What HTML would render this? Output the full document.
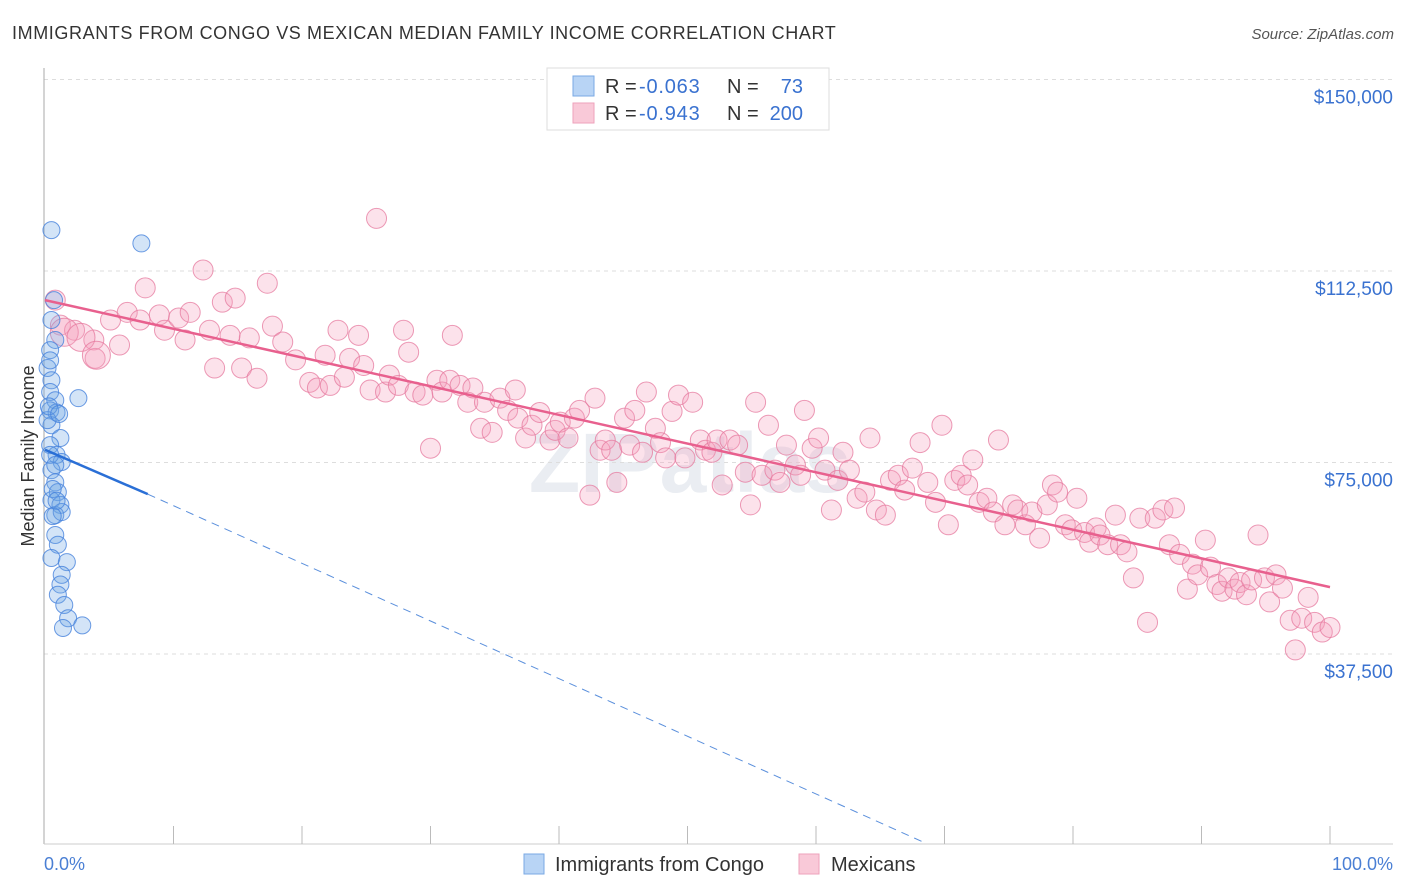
<!DOCTYPE html>
<html><head><meta charset="utf-8"><style>
body{margin:0;background:#fff;font-family:"Liberation Sans",sans-serif;}
svg{display:block}
</style></head><body>
<svg id="chart" width="1406" height="892">
<text x="12" y="39" font-size="18" fill="#333" letter-spacing="0.6">IMMIGRANTS FROM CONGO VS MEXICAN MEDIAN FAMILY INCOME CORRELATION CHART</text>
<text x="1394" y="39" font-size="15" fill="#555" font-style="italic" text-anchor="end">Source: ZipAtlas.com</text>
<text x="690" y="492" font-size="84" fill="#eaedf2" text-anchor="middle" font-weight="bold">ZIPatlas</text>
<g id="grid"></g>
<line x1="44" y1="68" x2="44" y2="844" stroke="#aaa"/>
<line x1="44" y1="844" x2="1393" y2="844" stroke="#ccc"/>
<g id="xticks"></g>
<text x="34" y="456" font-size="18" fill="#333" text-anchor="middle" transform="rotate(-90 34 456)">Median Family Income</text>
<text x="44" y="870" font-size="18" fill="#4a7fd4">0.0%</text>
<text x="1393" y="870" font-size="18" fill="#4a7fd4" text-anchor="end">100.0%</text>
<g id="pts"></g>
<g id="lines"></g>
<g>
<rect x="547" y="68" width="282" height="62" fill="#fff" stroke="#ddd"/>
<rect x="573" y="76" width="21" height="20" fill="#b8d4f5" stroke="#7aa9e4"/>
<rect x="573" y="103" width="21" height="20" fill="#f9c9d8" stroke="#eea2bb"/>
<text x="605" y="93" font-size="20" fill="#333">R = <tspan x="639" fill="#3a72d0" letter-spacing="0.8">-0.063</tspan></text>
<text x="727" y="93" font-size="20" fill="#333">N = <tspan x="803" text-anchor="end" fill="#3a72d0">73</tspan></text>
<text x="605" y="120" font-size="20" fill="#333">R = <tspan x="639" fill="#3a72d0" letter-spacing="0.8">-0.943</tspan></text>
<text x="727" y="120" font-size="20" fill="#333">N = <tspan x="803" text-anchor="end" fill="#3a72d0">200</tspan></text>
</g>
<g>
<rect x="524" y="854" width="20" height="20" fill="#b8d4f5" stroke="#7aa9e4"/>
<text x="555" y="871" font-size="20" fill="#333">Immigrants from Congo</text>
<rect x="799" y="854" width="20" height="20" fill="#f9c9d8" stroke="#eea2bb"/>
<text x="831" y="871" font-size="20" fill="#333">Mexicans</text>
</g>
</svg>
<script>
const yTicks=[150000,112500,75000,37500];
const yTickLabels=["$150,000","$112,500","$75,000","$37,500"];
const xTicks=[0,10,20,30,40,50,60,70,80,90,100];
const pinkX=[0.8,1.2,2.3,3.8,3.9,5.1,5.8,6.4,7.8,7.4,8.9,9.3,10.4,10.9,11.3,12.3,12.8,13.2,13.8,14.4,14.8,15.3,15.9,16.5,17.3,17.7,18.5,19.5,20.6,21.2,21.8,22.2,22.8,23.3,23.7,24.4,24.8,25.3,25.8,26.5,26.8,27.5,27.9,28.3,28.8,29.4,30,30.5,30.9,31.5,31.7,32.3,32.9,33.3,33.9,34.2,34.8,35.4,36,36.6,36.8,37.4,37.9,38.5,39.3,39.7,40.1,40.7,41.2,41.6,42.4,42.8,43.2,43.6,44.1,44.5,45.1,45.5,45.9,46.5,46.8,47.5,47.9,48.3,48.8,49.3,49.8,50.4,51,51.4,51.9,52.3,52.7,53.3,53.9,54.5,54.9,55.3,55.8,56.3,56.8,57.2,57.7,58.4,58.8,59.1,59.7,60.2,60.7,61.2,61.7,62.1,62.6,63.2,63.8,64.2,64.7,65.4,65.8,66.4,66.9,67.5,68.1,68.7,69.3,69.8,70.3,70.8,71.3,71.8,72.2,72.7,73.3,73.8,74.2,74.7,75.3,75.7,76.3,76.8,77.4,78,78.4,78.8,79.4,79.9,80.3,80.9,81.3,81.8,82.1,82.7,83.3,83.7,84.2,84.7,85.2,85.8,86.4,87,87.5,87.9,88.3,88.9,89.3,89.7,90.3,90.7,91.2,91.6,92.1,92.6,93,93.5,93.9,94.4,94.9,95.3,95.8,96.3,96.9,97.3,97.8,98.3,98.8,99.4,100,1.5,2.8,4.0];
const pinkY=[106.8,101.9,100.9,99,95.4,102.9,98,104.4,109.2,102.9,103.9,100.9,103.3,99,104.4,112.7,100.9,93.5,106.4,99.9,107.2,93.5,99.4,91.5,110.1,101.7,98.6,95.1,90.7,89.6,96,90.1,100.9,91.7,95.4,99.9,94,89.2,122.8,88.8,92.1,90.1,100.9,96.6,88.8,88.2,77.8,91.1,88.8,91.1,99.9,90.1,86.8,89.6,81.7,86.8,80.9,87.6,85.2,89.2,83.7,79.8,82.3,84.8,79.4,81.3,82.9,79.8,83.7,85.2,68.6,87.6,77.4,79.4,77.4,71.1,83.7,78.4,85.2,77,88.8,81.7,78.9,75.9,85,88.2,75.9,86.8,79.4,77.4,77,79.4,70.6,79.4,78.4,73.1,66.7,86.8,72.5,82.3,73.5,71.1,78.4,74.5,72.5,85.2,77.8,79.8,73.5,65.7,71.5,77,73.5,68,69.2,79.8,65.7,64.7,71.5,72.5,69.6,73.9,78.9,71.1,67.2,82.3,62.8,71.5,72.5,70.6,75.5,67.2,68,65.3,79.4,62.8,66.7,65.7,62.8,65.3,60.2,66.7,70.6,69.2,62.8,61.8,68,61.3,59.4,62.2,60.8,58.9,64.7,58.9,57.5,52.4,64.1,43.7,64.1,65.7,58.9,66.1,57,50.2,55.1,53,59.8,54.5,51.1,49.8,52.4,50.2,51.5,49.1,52,60.8,52.4,47.7,53,50.4,44.1,38.3,44.5,48.6,43.7,41.8,42.7,100.5,99.5,96];
const blueX=[0.5,7.5,0.7,0.5,0.8,0.4,0.2,0.5,0.4,0.8,2.6,0.4,0.9,0.5,1.2,0.4,0.9,1.3,0.5,0.8,1,0.5,1.2,0.8,1.3,0.8,1,0.5,1.7,1.3,1.2,1,1.5,1.8,1.4,2.9,0.4,0.6,0.2,0.8,0.3,0.6,0.9,0.4,1.1];
const blueY=[120.5,117.9,106.8,102.9,99,97,93.5,91.1,88.8,87.2,87.6,85.2,84.8,82.3,79.8,78.4,76.5,75.1,73.5,71.1,69.2,67.6,66.7,64.7,65.3,60.8,58.9,56.3,55.5,53,51.1,49.1,47.1,44.5,42.6,43.1,76.5,69.8,83.3,74.5,86,64.5,67.5,95,84.5];
const pinkLine=[106.8,50.6];
const blueLine=[77.5,68.8,0.5];
const blueLineX=[0,8,68.5];

const X0=45,X1=1330,Y0=845.5,PX=191.5/37500;
const sx=p=>X0+(X1-X0)*p/100;
const sy=v=>Y0-v*PX;
const sk=k=>sy(k*1000);
const NS="http://www.w3.org/2000/svg";
function mk(tag,attrs,parent){const e=document.createElementNS(NS,tag);for(const k in attrs)e.setAttribute(k,attrs[k]);parent.appendChild(e);return e;}
const grid=document.getElementById('grid');
yTicks.forEach((v,i)=>{
 const l=mk('line',{x1:44,x2:1393,y1:sy(v),y2:sy(v),stroke:'#ddd','stroke-dasharray':'4,4'},grid);
 
 
 const t=mk('text',{x:1393,y:sy(v)+24,'font-size':19,fill:'#3a72d0','text-anchor':'end'},grid);
 t.textContent=yTickLabels[i];
 
 
});
const xt=document.getElementById('xticks');
xTicks.forEach(p=>{
 if(p===0)return;
 const l=mk('line',{x1:sx(p),x2:sx(p),y1:826,y2:844,stroke:'#bbb'},xt);
 
 
});
const pts=document.getElementById('pts');
pinkX.forEach((x,i)=>{
 const r=i>=pinkX.length-3?14:10;
 const c=mk('circle',{cx:sx(x),cy:sk(pinkY[i]),r:r,fill:'rgba(244,160,188,0.3)',stroke:'rgba(230,120,158,0.75)','stroke-width':1},pts);
 
 
});
blueX.forEach((x,i)=>{
 const c=mk('circle',{cx:sx(x),cy:sk(blueY[i]),r:8.5,fill:'rgba(110,165,230,0.3)',stroke:'rgba(70,130,220,0.8)','stroke-width':1},pts);
 
 
});
const lg=document.getElementById('lines');
const pl=mk('line',{x1:sx(0),y1:sk(pinkLine[0]),x2:sx(100),y2:sk(pinkLine[1]),stroke:'#e8608e','stroke-width':2.5},lg);


const bl=mk('line',{x1:sx(blueLineX[0]),y1:sk(blueLine[0]),x2:sx(blueLineX[1]),y2:sk(blueLine[1]),stroke:'#2a6fd6','stroke-width':2.5},lg);


const bd=mk('line',{x1:sx(blueLineX[1]),y1:sk(blueLine[1]),x2:sx(blueLineX[2]),y2:sk(blueLine[2]),stroke:'#5a8fdc','stroke-width':1,'stroke-dasharray':'8,6'},lg);


</script>
</body></html>
